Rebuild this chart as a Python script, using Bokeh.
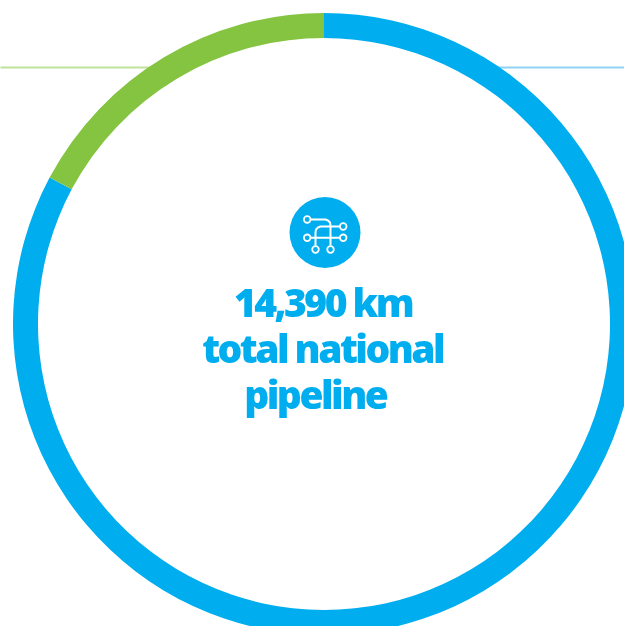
from math import pi
from bokeh.plotting import figure
from bokeh.models import Range1d
from bokeh.core.properties import value
from bokeh.embed import file_html
from bokeh.resources import INLINE

# data
segments = ["Blue share", "Green share"]
shares_km = [11915, 2475]
colors = ["#00AEEF", "#84C441"]
rule_colors = ["#8FD3F3", "#BDE29A"]
text_lines = ["14,390 km", "total national", "pipeline "]
text_x = [10.5, 16.5, 6.5]
text_y = [22.5, -23.5, -69.5]

W, H = 624, 626
CX, CY = 323.5, 323.5
p = figure(width=W, height=H, output_backend="svg", toolbar_location=None,
           x_range=Range1d(-CX, W - CX), y_range=Range1d(-(H - CY), CY),
           min_border=0, outline_line_color=None, background_fill_color="white",
           border_fill_color="white",
           styles={"position": "fixed", "left": "0px", "top": "0px",
                   "letter-spacing": "-2.55px"})
p.xaxis.visible = False
p.yaxis.visible = False
p.grid.visible = False

# horizontal rules behind the ring
rule_y = CY - 67
p.line([-330, -150], [rule_y, rule_y], line_color=rule_colors[1], line_width=2)
p.line([150, 310], [rule_y, rule_y], line_color=rule_colors[0], line_width=2)

# ring: green runs counter-clockwise from 12 o'clock, blue takes the rest
total = sum(shares_km)
top = pi / 2
green_end = top + 2 * pi * shares_km[1] / total
p.annular_wedge(x=[0, 0], y=[0, 0], inner_radius=286, outer_radius=311,
                start_angle=[green_end, top], end_angle=[top + 2 * pi, green_end],
                fill_color=colors, line_color=None)

# icon badge
BX, BY = 1.0, 91.5
p.circle(x=[BX], y=[BY], radius=35.5, fill_color=colors[0], line_color=None)
paths = [
    ([-14.5, 0.5, 3, 5, 5.5, 5.5], [13, 13, 12, 10, 7, -13]),
    ([14.5, -4.5, -7, -9, -9.5, -9.5], [6, 6, 5, 3, 0.3, -13]),
    ([-14.5, 14.5], [-5.3, -5.3]),
]
for xs, ys in paths:
    p.line([BX + v for v in xs], [BY + v for v in ys], line_color="white", line_width=2)
node_x = [-17.8, 18.2, -17.8, 18.2, -9.5, 5.5]
node_y = [13, 6, -5.3, -5.3, -17, -17]
p.circle(x=[BX + v for v in node_x], y=[BY + v for v in node_y], radius=3.3,
         fill_color=colors[0], line_color="white", line_width=1.8)

p.text(x=text_x, y=text_y, text=text_lines, text_color=colors[0],
       text_font=value("Open Sans ExtraBold"), text_font_style="normal",
       text_font_size="39px", text_align="center", text_baseline="alphabetic")

open("out.html", "w").write(file_html(p, INLINE))
